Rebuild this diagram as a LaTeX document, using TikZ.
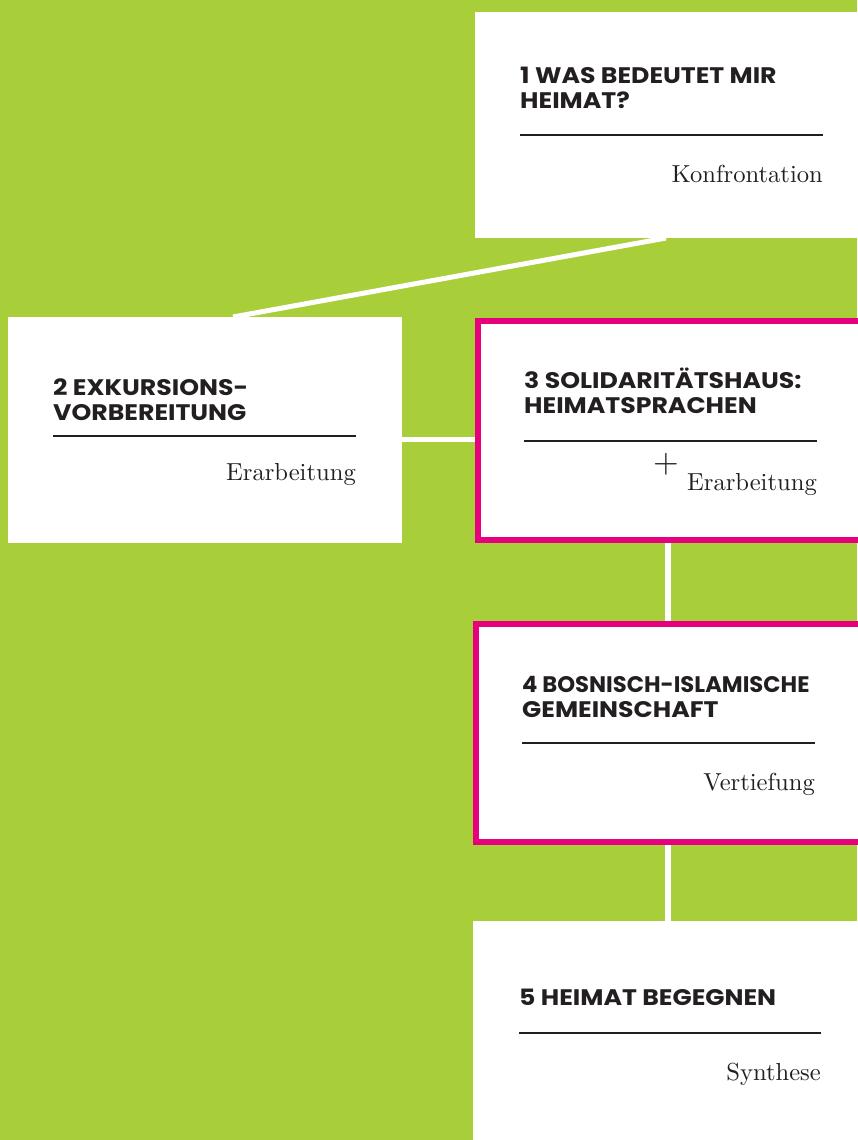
\documentclass[tikz,border=0pt]{standalone}
\usepackage{fontspec}
\newfontfamily\titlefont{Poppins}[FakeStretch=1.12]
\newfontfamily\phasefont{lmroman10-regular}[Extension=.otf]
\definecolor{bggreen}{RGB}{168,207,58}
\definecolor{hotpink}{RGB}{230,0,126}
\definecolor{ink}{RGB}{35,31,32}
\tikzset{
  whitebox/.style={fill=white, draw=none, inner sep=0pt, outer sep=0pt, anchor=north west},
  pinkbox/.style={fill=white, draw=hotpink, line width=6pt, inner sep=0pt, outer sep=3pt, anchor=north west},
  conn/.style={draw=white, line width=5pt},
  vconn/.style={draw=white, line width=6pt},
  title/.style={font=\titlefont\bfseries\fontsize{22.5}{25}\selectfont, text=ink, inner sep=0pt, anchor=base west},
  phase/.style={font=\phasefont\fontsize{24.6}{28}\selectfont, text=ink, inner sep=0pt, anchor=base east},
  rulec/.style={draw=ink, line width=2pt}
}
\newcommand{\twolines}[2]{\vtop{\baselineskip=25pt\hbox{#1}\hbox{#2}}}
\begin{document}
\begin{tikzpicture}[x=1pt,y=-1pt]
\useasboundingbox (0,0) rectangle (857,1140);
\fill[bggreen] (0,0) rectangle (857,1140);
% boxes
\node[whitebox, minimum width=400pt, minimum height=226pt] (b1) at (475,12) {};
\node[whitebox, minimum width=394pt, minimum height=226pt] (b2) at (8,317) {};
\node[pinkbox, minimum width=400pt, minimum height=219pt] (b3) at (475,318) {};
\node[pinkbox, minimum width=400pt, minimum height=218pt] (b4) at (473,621) {};
\node[whitebox, minimum width=400pt, minimum height=240pt] (b5) at (473,921) {};
% connectors
\draw[conn] ([xshift=191pt]b1.south west) -- ([xshift=225pt]b2.north west);
\draw[conn] ([yshift=-9pt]b2.east) -- ([yshift=-9pt]b2.east -| b3.west);
\draw[vconn] ([xshift=-8pt]b4.north |- b3.south) -- ([xshift=-8pt]b4.north);
\draw[vconn] ([xshift=-8pt]b4.south) -- ([xshift=-8pt]b4.south |- b5.north);
% box 1
\node[title] (t1) at (520,83) {\twolines{1 WAS BEDEUTET MIR}{HEIMAT?}};
\draw[rulec] (520,135) -- (823,135);
\node[phase] (p1) at (823,182) {Konfrontation};
% box 2
\node[title] (t2) at (53,395) {\twolines{2 EXKURSIONS-}{VORBEREITUNG}};
\draw[rulec] (53,436) -- (356,436);
\node[phase] (p2) at (356,480) {Erarbeitung};
% box 3
\node[title] (t3) at (524,388) {\twolines{3 SOLIDARITÄTSHAUS:}{HEIMATSPRACHEN}};
\draw[rulec] (524,441) -- (817,441);
\node[font=\phasefont\fontsize{33}{33}\selectfont, text=ink, inner sep=0pt] (plus) at (666,464) {+};
\node[phase] (p3) at (817,490) {Erarbeitung};
% box 4
\node[title] (t4) at (522,692) {\twolines{\scalebox{0.9}[1]{4 BOSNISCH-ISLAMISCHE}}{GEMEINSCHAFT}};
\draw[rulec] (522,743) -- (815,743);
\node[phase] (p4) at (815,790) {Vertiefung};
% box 5
\node[title] (t5) at (519,1005) {5 HEIMAT BEGEGNEN};
\draw[rulec] (519,1033) -- (821,1033);
\node[phase] (p5) at (821,1080) {Synthese};
\end{tikzpicture}
\end{document}
